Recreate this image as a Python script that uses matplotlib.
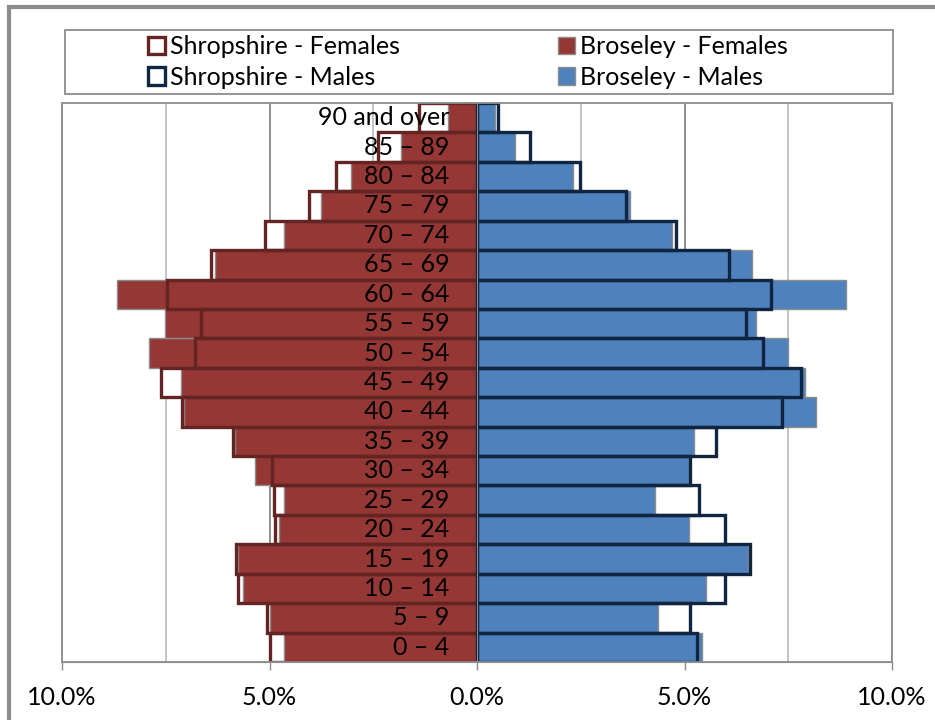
import matplotlib.pyplot as plt
import matplotlib.patches as mpatches
from matplotlib.ticker import FuncFormatter, MultipleLocator

# age bands, bottom to top
age_groups = ["0 – 4", "5 – 9", "10 – 14", "15 – 19", "20 – 24", "25 – 29",
              "30 – 34", "35 – 39", "40 – 44", "45 – 49", "50 – 54", "55 – 59",
              "60 – 64", "65 – 69", "70 – 74", "75 – 79", "80 – 84", "85 – 89",
              "90 and over"]

# percent of population in each band
broseley_females = [4.66, 4.98, 5.63, 5.77, 4.76, 4.66, 5.34, 5.84, 7.05, 7.14,
                    7.91, 7.52, 8.68, 6.32, 4.66, 3.75, 3.03, 1.83, 0.70]
shropshire_females = [5.00, 5.07, 5.77, 5.80, 4.86, 4.90, 4.93, 5.89, 7.12, 7.62,
                      6.80, 6.66, 7.48, 6.42, 5.10, 4.04, 3.39, 2.38, 1.39]
broseley_males = [5.43, 4.35, 5.53, 6.54, 5.12, 4.28, 5.10, 5.24, 8.17, 7.91,
                  7.50, 6.73, 8.89, 6.63, 4.69, 3.68, 2.31, 0.91, 0.43]
shropshire_males = [5.29, 5.14, 5.98, 6.59, 5.98, 5.34, 5.14, 5.75, 7.36, 7.81,
                    6.88, 6.49, 7.09, 6.08, 4.79, 3.58, 2.48, 1.27, 0.50]

FEM_FILL = "#953735"
MALE_FILL = "#4F81BD"
FEM_LINE = "#632523"
MALE_LINE = "#10253F"
EDGE_GREY = "#8C8C8C"
FS = 18

plt.rcParams['font.family'] = ['Lato', 'DejaVu Sans']
plt.rcParams['font.size'] = FS

fig = plt.figure(figsize=(9.35, 7.2), dpi=100)
ax = fig.add_axes([62 / 935, 1 - 662 / 720, 830 / 935, 559 / 720])

y = list(range(len(age_groups)))
neg_sf = [-v for v in shropshire_females]
neg_bf = [-v for v in broseley_females]

# white backing of the Shropshire bars
ax.barh(y, neg_sf, height=1.0, color="white", edgecolor="none", zorder=2)
ax.barh(y, shropshire_males, height=1.0, color="white", edgecolor="none", zorder=2)
# Broseley filled bars
ax.barh(y, neg_bf, height=1.0, color=FEM_FILL, edgecolor=EDGE_GREY,
        linewidth=1, zorder=3)
ax.barh(y, broseley_males, height=1.0, color=MALE_FILL, edgecolor=EDGE_GREY,
        linewidth=1, zorder=3)
# Shropshire outlines on top
ax.barh(y, neg_sf, height=1.0, fill=False, edgecolor=FEM_LINE,
        linewidth=2.4, zorder=4)
ax.barh(y, shropshire_males, height=1.0, fill=False, edgecolor=MALE_LINE,
        linewidth=2.4, zorder=4)

ax.set_xlim(-10, 10)
ax.set_ylim(-0.5, len(age_groups) - 0.5)

# category labels sit just left of the zero line
for i, lab in enumerate(age_groups):
    ax.text(-0.67, i, lab, ha="right", va="center", fontsize=FS,
            color="black", zorder=6)

# gridlines
ax.xaxis.set_major_locator(MultipleLocator(5))
ax.xaxis.set_minor_locator(MultipleLocator(2.5))
ax.grid(axis="x", which="major", color="#868686", linewidth=1.3)
ax.grid(axis="x", which="minor", color="#BFBFBF", linewidth=1.3)
ax.set_axisbelow(True)
ax.xaxis.set_major_formatter(FuncFormatter(lambda v, p: f"{abs(v):.1f}%"))
ax.tick_params(axis="x", which="major", length=6, width=1, color=EDGE_GREY,
               pad=11, labelsize=FS)
ax.tick_params(axis="x", which="minor", length=0)

# zero axis with ticks between categories
ax.spines["left"].set_position(("data", 0))
ax.spines["left"].set_color(EDGE_GREY)
ax.spines["left"].set_zorder(5)
ax.set_yticks([i - 0.5 for i in range(len(age_groups) + 1)])
ax.set_yticklabels([])
ax.tick_params(axis="y", length=8, width=1.3, color=EDGE_GREY, direction="out")
for s in ["top", "right"]:
    ax.spines[s].set_visible(False)
ax.spines["bottom"].set_color(EDGE_GREY)

# plot area border
ax.add_patch(mpatches.Rectangle((0, 0), 1, 1, transform=ax.transAxes,
                                fill=False, edgecolor=EDGE_GREY, linewidth=1.3,
                                zorder=6, clip_on=False))

# legend frame and legend
fig.patches.append(mpatches.Rectangle((65 / 935, 1 - 94 / 720), 828 / 935, 64 / 720,
                                      transform=fig.transFigure, fill=False,
                                      edgecolor=EDGE_GREY, linewidth=1.3))
handles = [
    mpatches.Patch(facecolor="white", edgecolor=FEM_LINE, linewidth=2.4,
                   label="Shropshire - Females"),
    mpatches.Patch(facecolor="white", edgecolor=MALE_LINE, linewidth=2.4,
                   label="Shropshire - Males"),
    mpatches.Patch(facecolor=FEM_FILL, edgecolor=EDGE_GREY, linewidth=1,
                   label="Broseley - Females"),
    mpatches.Patch(facecolor=MALE_FILL, edgecolor=EDGE_GREY, linewidth=1,
                   label="Broseley - Males"),
]
fig.legend(handles=handles, ncol=2, loc="center",
           bbox_to_anchor=(468 / 935, 1 - 62 / 720), frameon=False,
           handlelength=0.7, handleheight=0.7, handletextpad=0.2,
           columnspacing=6.3, labelspacing=0.3, fontsize=FS)

# outer chart frame
fig.patches.append(mpatches.Rectangle((9 / 935, -0.1), 1.2, 1.1 - 7 / 720,
                                      transform=fig.transFigure, fill=False,
                                      edgecolor=EDGE_GREY, linewidth=3))

fig.savefig("out.png", dpi=100)
